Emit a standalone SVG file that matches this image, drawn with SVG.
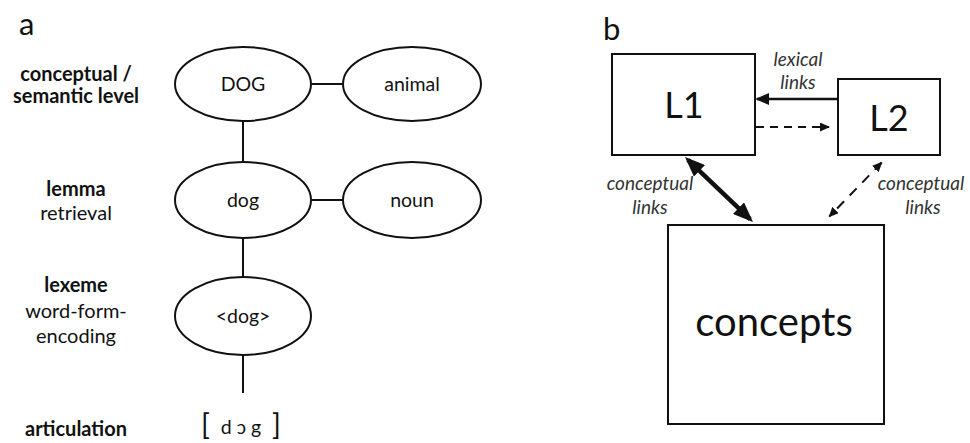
<svg xmlns="http://www.w3.org/2000/svg" width="970" height="443" viewBox="0 0 970 443">
<style>
text{font-family:Lato,"Open Sans","Liberation Sans",sans-serif;fill:#111}
.lbl{font-size:20px;text-anchor:middle}
.b{font-weight:bold}
.node{font-size:19.5px;text-anchor:middle}
.it{font-size:19px;font-style:italic;text-anchor:middle;fill:#333}
.panel{font-size:31px}
.br{font-size:29px;fill:#111}
ellipse,rect{fill:#fff;stroke:#111;stroke-width:2}
.ln{stroke:#111;stroke-width:2;fill:none}
</style>
<defs>
<marker id="big" viewBox="0 0 20 16" refX="16" refY="8" markerWidth="20" markerHeight="16" markerUnits="userSpaceOnUse" orient="auto-start-reverse"><path d="M0,0 L20,8 L0,16 z" fill="#111"/></marker>
<marker id="mid" viewBox="0 0 14 12" refX="12" refY="6" markerWidth="14" markerHeight="12" markerUnits="userSpaceOnUse" orient="auto-start-reverse"><path d="M0,0 L14,6 L0,12 z" fill="#111"/></marker>
<marker id="sm" viewBox="0 0 10 9" refX="9" refY="4.5" markerWidth="10" markerHeight="9" markerUnits="userSpaceOnUse" orient="auto-start-reverse"><path d="M0,0 L10,4.5 L0,9 z" fill="#111"/></marker>
</defs>

<text class="panel" x="19" y="35">a</text>
<text class="panel" x="603" y="40">b</text>

<g id="levels">
<text class="lbl b" x="76" y="81">conceptual /</text>
<text class="lbl b" x="76" y="103">semantic level</text>
<text class="lbl b" x="76" y="196">lemma</text>
<text class="lbl" x="76" y="220">retrieval</text>
<text class="lbl b" x="76" y="292">lexeme</text>
<text class="lbl" x="76" y="318">word-form-</text>
<text class="lbl" x="76" y="343">encoding</text>
<text class="lbl b" x="76" y="436">articulation</text>
</g>

<g id="connectors">
<line class="ln" x1="312" y1="84" x2="343" y2="84"/>
<line class="ln" x1="243" y1="122" x2="243" y2="162"/>
<line class="ln" x1="312" y1="200" x2="343" y2="200"/>
<line class="ln" x1="243" y1="238" x2="243" y2="278"/>
<line class="ln" x1="243" y1="355" x2="243" y2="393"/>
<line x1="838" y1="99" x2="757" y2="99" stroke="#111" stroke-width="2.5" marker-end="url(#mid)"/>
<line x1="756" y1="127" x2="829" y2="127" stroke="#111" stroke-width="2" stroke-dasharray="8,6" marker-end="url(#sm)"/>
<line x1="687.9" y1="159.8" x2="750.1" y2="219.2" stroke="#111" stroke-width="4.5" marker-start="url(#big)" marker-end="url(#big)"/>
<line x1="881.7" y1="162.5" x2="829.3" y2="216.5" stroke="#111" stroke-width="2" stroke-dasharray="10,8" marker-start="url(#sm)" marker-end="url(#sm)"/>
</g>

<g id="DOG"><ellipse cx="243" cy="84" rx="68" ry="37"/><text class="node" x="243" y="91">DOG</text></g>
<g id="animal"><ellipse cx="412" cy="84" rx="69" ry="37"/><text class="node" x="412" y="91">animal</text></g>
<g id="dog"><ellipse cx="243" cy="200" rx="68" ry="38"/><text class="node" x="243" y="207">dog</text></g>
<g id="noun"><ellipse cx="412" cy="200" rx="69" ry="38"/><text class="node" x="412" y="207">noun</text></g>
<g id="dogform"><ellipse cx="243" cy="316" rx="68" ry="39"/><text class="node" x="243" y="323">&lt;dog&gt;</text></g>
<g id="articulation-form">
<text class="br" x="201" y="435">[</text>
<text class="node" x="241" y="434">d ɔ g</text>
<text class="br" x="272" y="435">]</text>
</g>

<g id="L1"><rect x="612" y="54" width="143" height="101"/><text x="684" y="118" style="font-size:36px;text-anchor:middle">L1</text></g>
<g id="L2"><rect x="838" y="79" width="102" height="76"/><text x="889" y="131" style="font-size:36px;text-anchor:middle">L2</text></g>
<g id="concepts"><rect x="668" y="225" width="216" height="199"/><text x="774" y="336" style="font-size:40px;text-anchor:middle">concepts</text></g>

<g id="labels">
<text class="it" x="798" y="66">lexical</text>
<text class="it" x="798" y="89">links</text>
<text class="it" x="650" y="190">conceptual</text>
<text class="it" x="650" y="214">links</text>
<text class="it" x="921" y="190">conceptual</text>
<text class="it" x="923" y="214">links</text>
</g>
</svg>
